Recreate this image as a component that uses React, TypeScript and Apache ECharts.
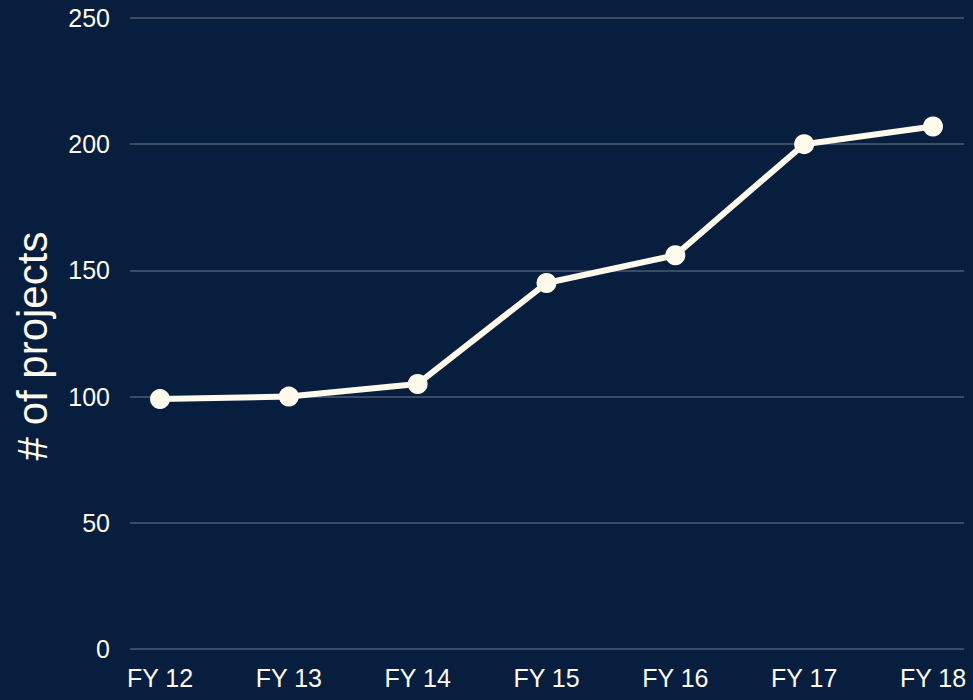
import React, { useEffect, useRef } from "react";
import * as echarts from "echarts";

const categories = ["FY 12", "FY 13", "FY 14", "FY 15", "FY 16", "FY 17", "FY 18"];
const projects = [99, 100, 105, 145, 156, 200, 207];
const yTicks = { min: 0, max: 250, interval: 50 };
const yTitle = "# of projects";

const BG = "#081e3e";
const CREAM = "#fffbec";
const FONT = "Liberation Sans, Arial, sans-serif";

export default function App() {
  const ref = useRef<HTMLDivElement>(null);
  useEffect(() => {
    if (!ref.current) return;
    const chart = echarts.init(ref.current, null, { renderer: "svg" });
    chart.setOption({
      animation: false,
      backgroundColor: BG,
      grid: [
        { left: 130, right: 9, top: 18, bottom: 51 },
        { left: 160, right: 40, top: 18, bottom: 51 },
      ],
      graphic: [
        {
          type: "text",
          x: 32,
          y: 346,
          rotation: Math.PI / 2,
          style: {
            text: yTitle,
            fill: CREAM,
            fontSize: 42,
            fontFamily: FONT,
            align: "center",
            verticalAlign: "middle",
          },
        },
      ],
      xAxis: [
        { type: "value", gridIndex: 0, min: 0, max: 1, show: false },
        {
          type: "category",
          gridIndex: 1,
          data: categories,
          boundaryGap: false,
          axisLine: { show: false },
          axisTick: { show: false },
          axisLabel: { color: CREAM, fontSize: 25, fontFamily: FONT, margin: 16 },
        },
      ],
      yAxis: [
        {
          type: "value",
          gridIndex: 0,
          min: yTicks.min,
          max: yTicks.max,
          interval: yTicks.interval,
          axisLine: { show: false },
          axisTick: { show: false },
          axisLabel: { color: CREAM, fontSize: 25, fontFamily: FONT, margin: 20 },
          splitLine: { lineStyle: { color: "#4d5b70", width: 1.5 } },
        },
        {
          type: "value",
          gridIndex: 1,
          min: yTicks.min,
          max: yTicks.max,
          interval: yTicks.interval,
          show: false,
        },
      ],
      series: [
        {
          type: "line",
          xAxisIndex: 1,
          yAxisIndex: 1,
          data: projects,
          symbol: "circle",
          symbolSize: 20,
          lineStyle: { color: CREAM, width: 6 },
          itemStyle: { color: CREAM },
        },
      ],
    });
    return () => chart.dispose();
  }, []);
  return (
    <div
      ref={ref}
      style={{ position: "fixed", left: 0, top: 0, width: 973, height: 700 }}
    />
  );
}
